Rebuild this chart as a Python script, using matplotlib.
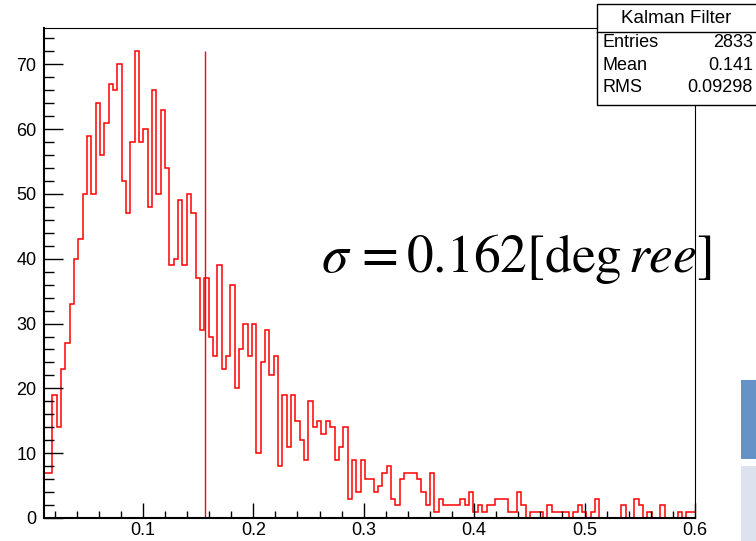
import numpy as np
import matplotlib
matplotlib.use('Agg')
import matplotlib.pyplot as plt
from matplotlib.patches import Rectangle
from matplotlib.lines import Line2D
from matplotlib.ticker import MultipleLocator

plt.rcParams['font.family'] = ['Liberation Sans', 'DejaVu Sans']
plt.rcParams['mathtext.fontset'] = 'stix'

# histogram binning (150 bins between 0.01 and 0.6)
x_low = 0.01
x_high = 0.6
n_bins = 150

# bin contents
counts = [
    7, 7, 19, 14, 23, 27, 33, 40, 43, 50,
    59, 50, 64, 56, 61, 67, 66, 70, 52, 47,
    58, 72, 58, 60, 48, 66, 50, 63, 54, 39,
    40, 49, 39, 50, 47, 37, 29, 37, 28, 25,
    39, 23, 25, 36, 20, 26, 30, 25, 30, 10,
    24, 29, 22, 25, 8, 19, 11, 19, 15, 12,
    9, 18, 14, 15, 13, 15, 14, 9, 11, 14,
    3, 9, 4, 9, 6, 6, 4, 5, 7, 8,
    3, 2, 6, 7, 7, 7, 6, 4, 2, 7,
    1, 3, 2, 2, 2, 2, 3, 2, 4, 1,
    2, 1, 2, 2, 3, 3, 3, 1, 1, 4,
    2, 0, 1, 1, 1, 0, 2, 1, 1, 1,
    1, 0, 1, 2, 1, 0, 1, 3, 0, 0,
    0, 0, 0, 2, 0, 0, 3, 2, 0, 1,
    0, 0, 2, 0, 0, 0, 1, 0, 1, 1,
]

# vertical marker line
cut_value = 0.156

# stats box entries
stats_title = 'Kalman Filter'
stats_names = ['Entries', 'Mean', 'RMS']
stats_values = ['2833', '0.141', '0.09298']

W, H = 756, 541
fig = plt.figure(figsize=(W / 100, H / 100), dpi=100)

# axes frame in pixels: left 43.5, right 695, top 28, bottom 518
ax = fig.add_axes([43.5 / W, 1 - 518 / H, (695 - 43.5) / W, (518 - 28) / H])

edges = np.linspace(x_low, x_high, n_bins + 1)
ax.stairs(counts, edges, color='red', lw=1.1, baseline=None)
ax.vlines(cut_value, 0, max(counts), color='red', lw=1.0)

ax.set_xlim(x_low, x_high)
ax.set_ylim(0, 1.05 * max(counts))

ax.xaxis.set_major_locator(MultipleLocator(0.1))
ax.xaxis.set_minor_locator(MultipleLocator(0.02))
ax.yaxis.set_major_locator(MultipleLocator(10))
ax.yaxis.set_minor_locator(MultipleLocator(2))
ax.xaxis.set_major_formatter(matplotlib.ticker.FormatStrFormatter('%g'))

ax.tick_params(axis='both', which='both', direction='in', labelsize=13,
               width=1.0, colors='black')
ax.tick_params(axis='x', which='major', length=10.6, pad=3)
ax.tick_params(axis='x', which='minor', length=5.3)
ax.tick_params(axis='y', which='major', length=14, pad=5)
ax.tick_params(axis='y', which='minor', length=7)

for side in ['left', 'bottom']:
    ax.spines[side].set_linewidth(1.5)
for side in ['top', 'right']:
    ax.spines[side].set_linewidth(0.8)

ax.text(0.2615, 38, r'$\sigma\,= 0.162[\deg ree]$', fontsize=38.5,
        ha='left', va='baseline', clip_on=False, zorder=2)

# stats box (runs off the right edge of the picture)
def fx(px):
    return px / W

def fy(py):
    return 1 - py / H

fig.add_artist(Rectangle((fx(597), fy(105)), fx(770) - fx(597), fy(4) - fy(105),
                         transform=fig.transFigure, facecolor='white',
                         edgecolor='black', lw=1.0, zorder=5))
fig.add_artist(Line2D([fx(597), fx(760)], [fy(32), fy(32)],
                      transform=fig.transFigure, color='black', lw=1.0, zorder=6))
fig.text(fx(676), fy(18.5), stats_title, fontsize=13.5, ha='center', va='center', zorder=7)
row_y = [42.5, 65, 87.5]
for name, val, ry in zip(stats_names, stats_values, row_y):
    fig.text(fx(603), fy(ry), name, fontsize=13, ha='left', va='center', zorder=7)
    fig.text(fx(753), fy(ry), val, fontsize=13, ha='right', va='center', zorder=7)

# bits of other windows at the bottom-right corner of the screenshot
fig.add_artist(Rectangle((fx(741), fy(459)), fx(756) - fx(741), fy(380) - fy(459),
                         transform=fig.transFigure, facecolor='#6592c7',
                         edgecolor='none', zorder=5))
fig.add_artist(Rectangle((fx(741), fy(541)), fx(756) - fx(741), fy(466) - fy(541),
                         transform=fig.transFigure, facecolor='#dde3ee',
                         edgecolor='none', zorder=5))

fig.savefig('out.png', dpi=100)
